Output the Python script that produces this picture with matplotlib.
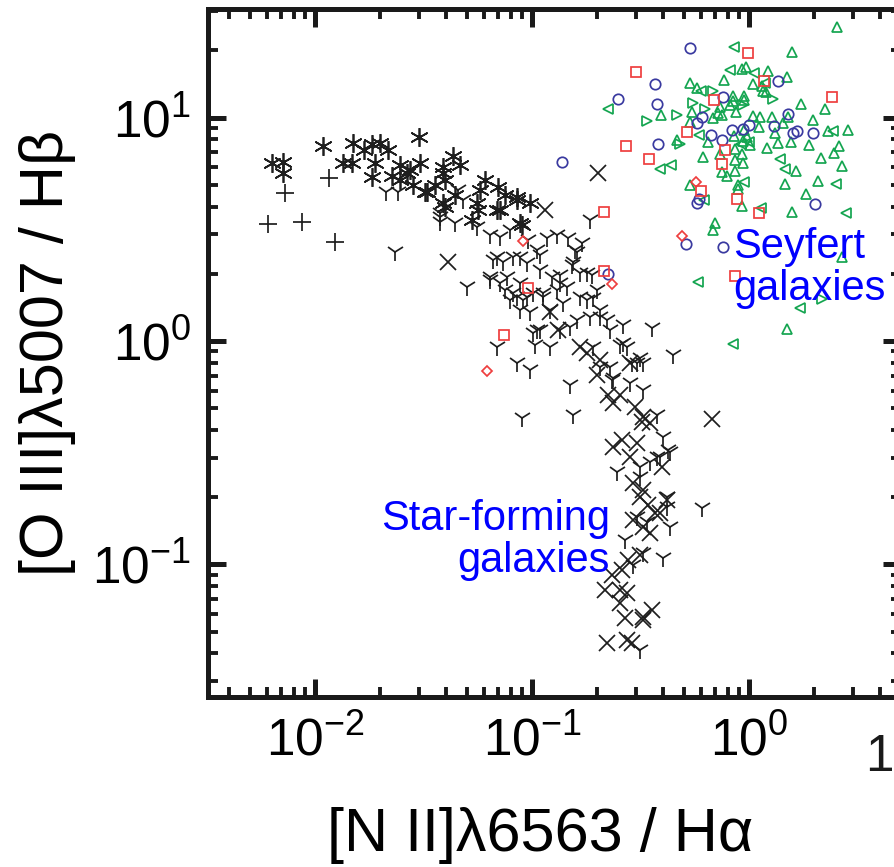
import numpy as np
import matplotlib
matplotlib.use("Agg")
import matplotlib.pyplot as plt
from matplotlib.ticker import LogLocator, NullFormatter

plt.rcParams['font.family'] = ['Liberation Sans', 'DejaVu Sans']
plt.rcParams['mathtext.fontset'] = 'custom'
plt.rcParams['mathtext.rm'] = 'Liberation Sans'
plt.rcParams['mathtext.it'] = 'Liberation Sans'
plt.rcParams['mathtext.bf'] = 'Liberation Sans'

# ---- data: log10([N II]/Ha) and log10([O III]/Hb) ----
plus_lx = [-2.217, -2.138, -2.060, -1.935, -1.908]
plus_ly = [0.523, 0.662, 0.532, 0.729, 0.443]

ast_lx = [-2.198, -2.147, -2.147, -1.963, -1.825, -1.829, -1.871, -1.737, -1.700, -1.724,
          -1.737, -1.608, -1.576, -1.608, -1.521, -1.516, -1.484, -1.410, -1.401, -1.364,
          -1.401, -1.217, -1.157, -1.253, -1.069, -1.009, -1.147, -1.055, -1.562, -1.410,
          -1.493, -1.410, -1.069, -1.249, -1.161, -1.046, -1.276, -1.664, -1.774, -1.645,
          -1.332, -1.447, -1.548, -1.355, -1.240, -1.124]
ast_ly = [0.796, 0.801, 0.752, 0.872, 0.886, 0.796, 0.796, 0.881, 0.886, 0.796,
          0.734, 0.787, 0.752, 0.720, 0.913, 0.796, 0.667, 0.778, 0.720, 0.828,
          0.600, 0.720, 0.689, 0.617, 0.631, 0.617, 0.586, 0.528, 0.765, 0.752,
          0.667, 0.617, 0.644, 0.586, 0.586, 0.519, 0.541, 0.855, 0.855, 0.738,
          0.787, 0.698, 0.698, 0.653, 0.676, 0.653]

cross_lx = [-1.387, -0.696, -0.940, -0.917, -0.880, -0.747, -0.548, -0.171, -0.627, -0.585,
            -0.516, -0.456, -0.488, -0.401, -0.535, -0.488, -0.378, -0.410, -0.535, -0.488,
            -0.456, -0.594, -0.562, -0.594, -0.571, -0.488, -0.447, -0.654, -0.562, -0.539,
            -0.488, -0.627, -0.525, -0.493, -0.548, -0.502, -0.433, -0.700, -0.687, -0.594,
            -0.650, -0.558, -0.502, -0.631, -0.664, -0.585, -0.465, -0.779]
cross_ly = [0.353, 0.752, 0.586, 0.130, 0.049, -0.054, -0.098, -0.349, -0.474, -0.443,
            -0.456, -0.367, -0.340, -0.564, -0.635, -0.667, -0.711, -0.770, -0.801, -0.832,
            -0.859, -1.114, -1.127, -1.172, -1.239, -1.235, -1.204, -1.351, -1.338, -1.351,
            -1.248, -0.277, -0.295, -0.362, -0.519, -0.698, -0.770, -0.152, -0.085, -0.242,
            -0.242, -0.980, -0.957, -1.047, -1.114, -1.025, -0.734, -0.027]

tri_lx = [-0.447, -0.350, -0.825, -1.046, -0.811, -1.009, -1.069, -1.161, -0.581, -0.608,
          -0.217, -0.502, -0.364, -0.396, -0.535, -0.424, -0.364, -0.488, -0.502, -0.594,
          -0.719, -0.917, -0.986, -0.977, -0.793, -0.687, -0.641, -0.562, -0.516, -0.687,
          -0.631, -0.871, -1.055, -1.180, -1.134, -1.055, -0.963, -0.793, -1.194, -1.147,
          -1.124, -1.088, -1.023, -0.949, -0.963, -0.908, -0.871, -0.816, -0.779, -0.724,
          -0.700, -0.687, -0.654, -0.733, -0.825, -1.009, -1.041, -0.779, -0.747, -0.719,
          -0.857, -0.917, -0.963, -0.995, -1.355, -1.424, -1.424, -1.318, -1.341, -1.300,
          -1.253, -1.194, -1.147, -1.101, -1.018, -0.977, -0.931, -0.885, -0.834, -0.770,
          -0.802, -0.733, -0.811, -0.747, -0.871, -1.023, -1.088, -1.161, -1.194, -1.115,
          -1.055, -0.995, -0.949, -0.885, -0.839, -1.069, -1.101, -0.581, -0.539, -0.488,
          -0.641, -0.627, -0.548, -0.424, -0.396, -0.373, -0.410, -0.456, -0.502, -0.502,
          -0.378, -0.378, -0.516, -0.470, -1.631, -1.673, -1.618, -1.424, -0.571, -0.488]
tri_ly = [0.058, -0.063, -0.197, -0.345, -0.331, -0.130, -0.098, -0.027, 0.072, -0.586,
          -0.747, -1.382, -0.832, -0.971, -1.002, -0.519, -0.497, -0.219, -0.076, -0.018,
          -0.027, -0.027, -0.018, 0.049, 0.094, 0.107, 0.049, -0.027, -0.098, -0.116,
          -0.174, 0.049, 0.139, 0.362, 0.353, 0.376, 0.385, 0.398, 0.273, 0.259,
          0.228, 0.215, 0.197, 0.215, 0.318, 0.286, 0.259, 0.340, 0.304, 0.295,
          0.228, 0.139, 0.094, 0.107, 0.063, 0.130, 0.183, 0.197, 0.183, 0.192,
          0.170, 0.139, 0.049, 0.036, 0.528, 0.573, 0.532, 0.631, 0.676, 0.242,
          0.510, 0.474, 0.465, 0.497, 0.452, 0.407, 0.461, 0.474, 0.461, 0.438,
          0.407, 0.541, 0.353, 0.304, 0.295, 0.349, 0.376, 0.376, 0.286, 0.286,
          0.259, 0.215, 0.197, 0.228, 0.242, 0.197, 0.183, -0.009, -0.098, -0.098,
          -0.116, -0.166, -0.188, -0.331, -0.430, -0.488, -0.519, -0.541, -0.564, -0.608,
          -0.698, -0.743, -0.787, -0.810, 0.398, 0.667, 0.667, 0.555, -0.890, -0.949]

circ_lx = [-0.272, -0.433, -0.604, -0.424, -0.862, -0.419, -0.217, -0.240, -0.175, -0.124,
           -0.078, -0.028, 0.000, -0.120, 0.134, 0.115, 0.180, 0.203, 0.221, 0.295,
           0.304, -0.240, -0.230, -0.290, -0.120, -0.650]
circ_ly = [1.311, 1.150, 1.083, 1.060, 0.801, 0.881, 1.002, 0.975, 0.922, 0.899,
           0.944, 0.948, 0.966, 1.092, 1.163, 0.962, 1.016, 0.931, 0.940, 0.931,
           0.613, 0.617, 0.635, 0.434, 0.421, 0.300]

sq_lx = [-0.005, -0.521, -0.161, 0.069, 0.382, -0.286, -0.567, -0.461, -0.124, -0.111,
         -0.221, -0.055, 0.046, -0.668, -0.065, -0.668, -1.018, -1.129]
sq_ly = [1.289, 1.204, 1.078, 1.163, 1.092, 0.935, 0.872, 0.814, 0.792, 0.855,
         0.671, 0.635, 0.573, 0.577, 0.291, 0.313, 0.237, 0.027]

dia_lx = [-0.244, -0.309, -0.631, -1.207, -1.041]
dia_ly = [0.711, 0.470, 0.255, -0.134, 0.447]

up_lx = [0.406, 0.198, 0.175, 0.088, -0.014, -0.032, -0.115, -0.272, -0.240, 0.060,
         0.078, -0.023, -0.023, -0.074, -0.088, -0.134, -0.143, -0.124, -0.166, -0.406,
         -0.263, 0.051, 0.106, 0.157, 0.180, 0.295, 0.364, 0.456, 0.046, -0.023,
         -0.069, -0.009, -0.028, 0.005, -0.065, -0.032, -0.134, -0.212, -0.065, -0.028,
         0.083, 0.134, 0.194, 0.276, 0.415, 0.392, 0.429, -0.065, -0.124, 0.217,
         0.166, 0.318, -0.051, -0.051, -0.272, -0.032, 0.198, -0.157, -0.166, 0.429,
         0.175, -0.060, 0.018, -0.272, 0.065, -0.074, 0.240, 0.330, -0.190, 0.020,
         0.120, -0.100, 0.260, -0.330, 0.350]
up_ly = [1.405, 1.293, 1.181, 1.208, 1.226, 1.217, 1.168, 1.154, 1.132, 1.141,
         1.114, 1.096, 1.078, 1.074, 1.056, 1.047, 1.020, 1.011, 0.998, 1.011,
         1.025, 1.002, 1.002, 0.975, 1.002, 0.989, 0.940, 0.944, 0.957, 0.944,
         0.917, 0.913, 0.895, 0.877, 0.859, 0.837, 0.837, 0.823, 0.810, 0.796,
         0.863, 0.886, 0.890, 0.877, 0.872, 0.841, 0.783, 0.761, 0.756, 0.761,
         0.702, 0.716, 0.698, 0.680, 0.698, 0.604, 0.577, 0.528, 0.497, 0.376,
         0.054, 1.025, 1.007, 0.980, 1.119, 1.096, 1.060, 0.820, 0.890, 1.150,
         0.930, 0.740, 0.660, 0.900, 1.040]

left_lx = [-0.069, -0.088, 0.023, -0.650, -0.221, -0.230, -0.410, -0.359, 0.143, 0.166,
           0.401, 0.447, 0.055, -0.037, 0.000, -0.207, -0.235, 0.235, -0.074, 0.387,
           0.074, -0.023]
left_ly = [1.315, 1.212, 1.199, 1.038, 1.119, 0.922, 0.770, 0.787, 0.814, 0.770,
           0.702, 0.573, 0.595, 0.881, 0.890, 0.631, 0.264, 0.148, -0.013, 0.940,
           1.154, 0.711]

right_lx = [-0.470, -0.332, -0.318, -0.166, -0.258, -0.028, 0.111, -0.203, 0.336]
right_ly = [0.984, 1.011, 0.881, 1.119, 1.065, 1.056, 1.083, 1.038, 0.188]

# ---- figure ----
fig = plt.figure(figsize=(8.95, 8.67), dpi=100)
ax = fig.add_axes([208/895, (867-697)/867, (901-208)/895, 688/867])
ax.set_xscale('log')
ax.set_yscale('log')

def p(lx):
    return 10.0 ** np.asarray(lx)

blk = '#1e1e1e'
kw = dict(linestyle='none', color=blk, mew=1.25)
ax.plot(p(tri_lx), p(tri_ly), marker='1', ms=13.5, **kw)
ax.plot(p(cross_lx), p(cross_ly), marker='x', ms=11, **kw)
ax.plot(p(ast_lx), p(ast_ly), marker=(6, 2, 0), ms=13.5, **kw)
ax.plot(p(plus_lx), p(plus_ly), marker='+', ms=13, **kw)

red = '#ee3e3e'
blue = '#3a3aa0'
green = '#14a550'
ckw = dict(linestyle='none', mfc='none', mew=1.25)
ax.plot(p(up_lx), p(up_ly), marker='^', ms=7.5, mec=green, **ckw)
ax.plot(p(left_lx), p(left_ly), marker='<', ms=7.5, mec=green, **ckw)
ax.plot(p(right_lx), p(right_ly), marker='>', ms=7.5, mec=green, **ckw)
ax.plot(p(circ_lx), p(circ_ly), marker='o', ms=7.5, mec=blue, **ckw)
ax.plot(p(sq_lx), p(sq_ly), marker='s', ms=7.5, mec=red, **ckw)
ax.plot(p(dia_lx), p(dia_ly), marker='D', ms=5.5, mec=red, **ckw)

ax.set_xlim(10 ** -2.493, 10 ** 0.700)
ax.set_ylim(10 ** -1.593, 10 ** 1.486)

for s in ax.spines.values():
    s.set_linewidth(3.6)
    s.set_color('#1a1a1a')

ax.xaxis.set_major_locator(LogLocator(base=10, numticks=20))
ax.yaxis.set_major_locator(LogLocator(base=10, numticks=20))
ax.xaxis.set_minor_locator(LogLocator(base=10, subs=np.arange(2, 10), numticks=20))
ax.yaxis.set_minor_locator(LogLocator(base=10, subs=np.arange(2, 10), numticks=20))
ax.xaxis.set_minor_formatter(NullFormatter())
ax.yaxis.set_minor_formatter(NullFormatter())
ax.tick_params(which='both', direction='in', top=True, right=True, color='#1a1a1a')
ax.tick_params(which='major', length=13, width=3.6, labelsize=37, pad=12)
ax.tick_params(which='minor', length=7, width=2.8)
ax.tick_params(axis='x', which='major', pad=14)

ax.set_xlabel('[N II]λ6563 / Hα', fontsize=44)
ax.set_ylabel('[O III]λ5007 / Hβ', fontsize=44)
ax.xaxis.set_label_coords(0.479, -0.16)
ax.yaxis.set_label_coords(-0.19, 0.5)

ax.text(10 ** -0.641, 10 ** -1.034, 'Star-forming\ngalaxies', color='#0000ff',
        fontsize=30, ha='right', va='baseline', multialignment='right', linespacing=1.08)
ax.text(10 ** -0.074, 10 ** 0.183, 'Seyfert\ngalaxies', color='#0000ff',
        fontsize=30, ha='left', va='baseline', multialignment='left', linespacing=1.08)

fig.text(894 / 895, 1 - 771 / 867, '1', fontsize=37, ha='right', va='baseline', color='#1a1a1a')

fig.savefig('out.png', dpi=100)
